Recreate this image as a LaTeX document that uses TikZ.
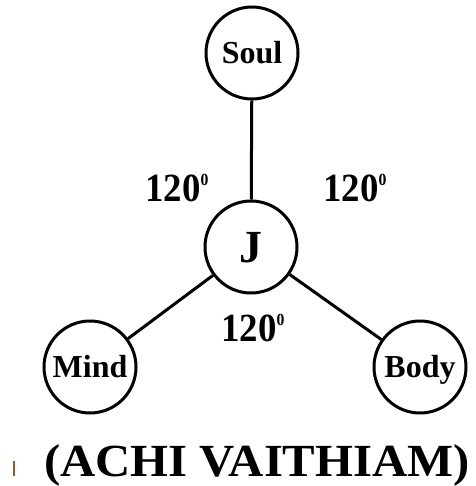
\documentclass[tikz,border=0pt]{standalone}
\usepackage{fontspec}
\setmainfont{Liberation Serif}
\definecolor{tickbrown}{RGB}{150,90,40}
\newcommand{\degsup}{\raisebox{0.4em}{\fontsize{17}{17}\selectfont 0}}
\begin{document}
\begin{tikzpicture}[x=1pt,y=-1pt,
  ball/.style={circle,draw=black,line width=3pt,minimum size=92pt,inner sep=0pt,fill=white,text height=21pt,text depth=0pt,font=\fontsize{32}{34}\selectfont\bfseries},
  bigball/.style={ball,text height=30pt,font=\fontsize{46}{48}\selectfont\bfseries},
  link/.style={line width=3pt,draw=black},
  angle/.style={font=\fontsize{40}{42}\selectfont\bfseries,inner sep=0pt,xscale=0.92}]
\useasboundingbox (0,0) rectangle (475,486);
\node[ball] (soul) at (252,53) {Soul};
\node[bigball] (j) at (251,247) {J};
\node[ball] (mind) at (90,367) {Mind};
\node[ball] (body) at (420,367) {Body};
\draw[link] (soul) -- (j);
\draw[link] (j) -- (mind);
\draw[link] (j) -- (body);
\node[angle] (a1) at (177,188) {120\degsup};
\node[angle] (a2) at (355,188) {120\degsup};
\node[angle] (a3) at (253,328) {120\degsup};
\node[font=\fontsize{46}{48}\selectfont\bfseries,inner sep=0pt,anchor=base,xscale=1.06] (title) at (257,476) {(ACHI VAITHIAM)};
\coordinate (t1) at (14,461);
\coordinate (t2) at (14,476);
\draw[tickbrown,line width=1.5pt] (t1) -- (t2);
\end{tikzpicture}
\end{document}
